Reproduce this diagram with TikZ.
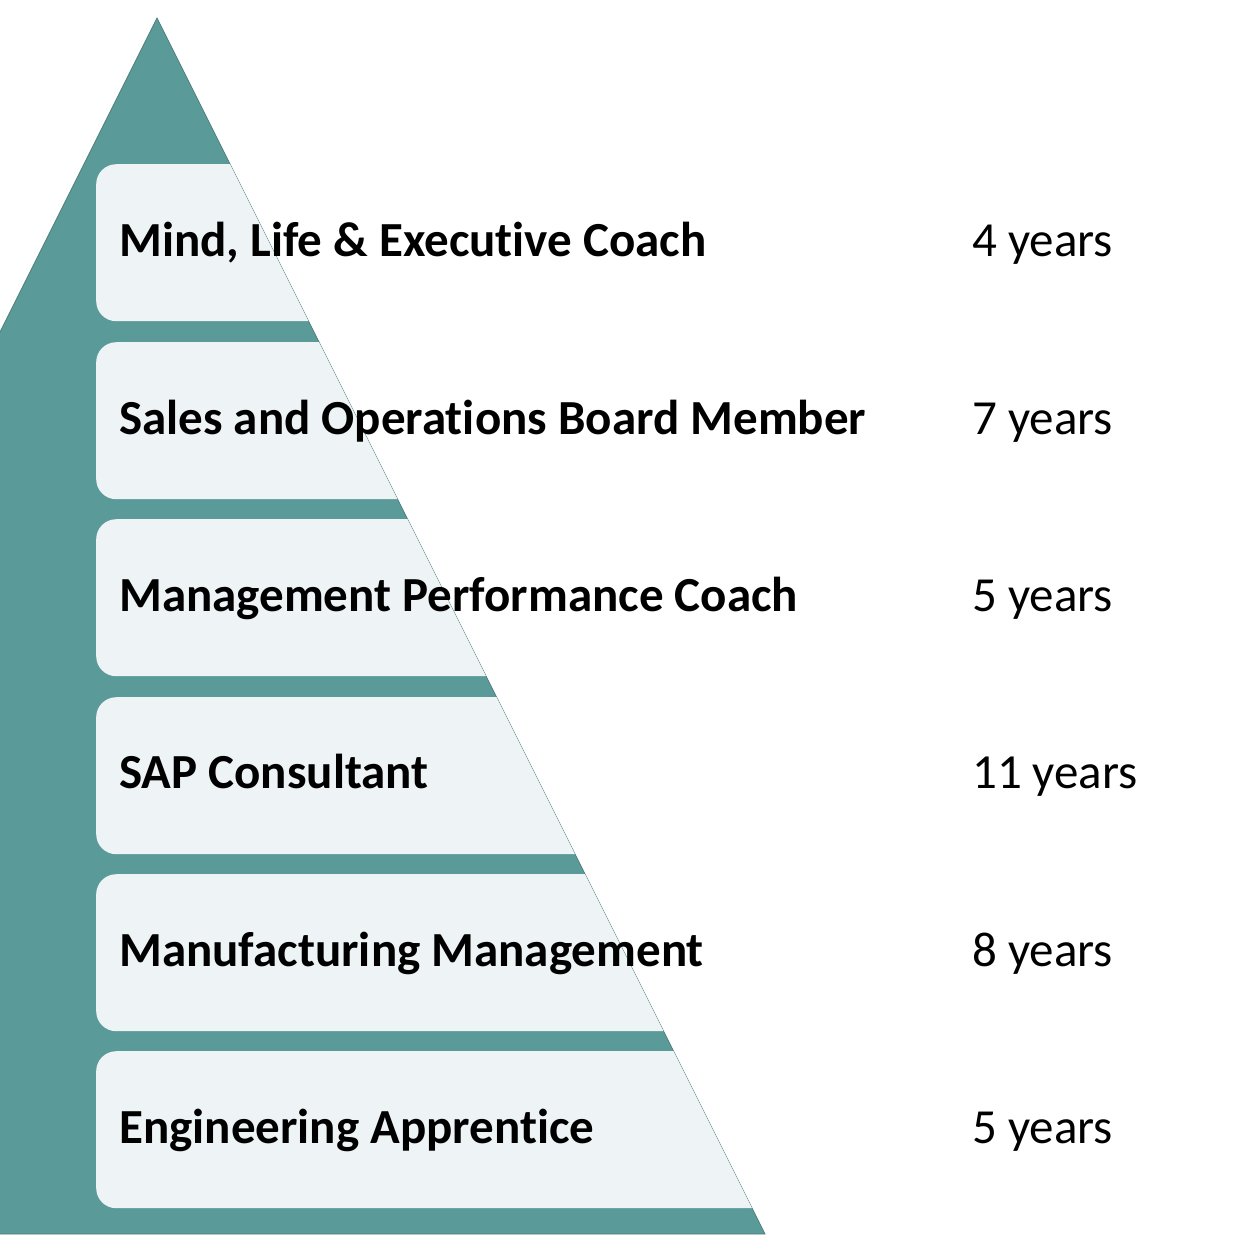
\documentclass[tikz,border=0pt]{standalone}
\usepackage{fontspec}
\setmainfont{Carlito}[Ligatures={NoCommon}]
\definecolor{teal1}{HTML}{5A9A98}
\definecolor{tealedge}{HTML}{4E7E7C}
\definecolor{boxfill}{HTML}{EEF3F6}
\begin{document}
\begin{tikzpicture}[x=1pt,y=-1pt,
  tier/.style={rectangle, rounded corners=20pt, fill=boxfill, draw=none, anchor=north west, minimum width=900pt, minimum height=157pt, inner sep=0pt},
  role/.style={anchor=base west, inner sep=0pt, font=\fontsize{49}{58}\selectfont\bfseries, text=black},
  yrs/.style={anchor=base west, inner sep=0pt, font=\fontsize{49}{58}\selectfont, text=black}]
\useasboundingbox (0,0) rectangle (1235,1235);
\begin{scope}
\clip (0,0) rectangle (1235,1235);
\path[fill=teal1, draw=tealedge, line width=0.8pt] (157,18) -- (765,1234) -- (-451,1234) -- cycle;
\begin{scope}
\clip (157,18) -- (765,1234) -- (-451,1234) -- cycle;
\node[tier] (b1) at (96,164) {};
\node[tier] (b2) at (96,342) {};
\node[tier] (b3) at (96,519) {};
\node[tier] (b4) at (96,697) {};
\node[tier] (b5) at (96,874) {};
\node[tier] (b6) at (96,1051) {};
\end{scope}
\end{scope}
\node[role] (t1) at (119,256) {Mind, Life \& Executive Coach};
\node[role] (t2) at (119,434) {Sales and Operations Board Member};
\node[role] (t3) at (119,611) {Management Performance Coach};
\node[role] (t4) at (119,788) {SAP Consultant};
\node[role] (t5) at (119,966) {Manufacturing Management};
\node[role] (t6) at (119,1143) {Engineering Apprentice};
\node[yrs] (y1) at (972,256) {4 years};
\node[yrs] (y2) at (972,434) {7 years};
\node[yrs] (y3) at (972,611) {5 years};
\node[yrs] (y4) at (972,788) {11 years};
\node[yrs] (y5) at (972,966) {8 years};
\node[yrs] (y6) at (972,1143) {5 years};
\end{tikzpicture}
\end{document}
